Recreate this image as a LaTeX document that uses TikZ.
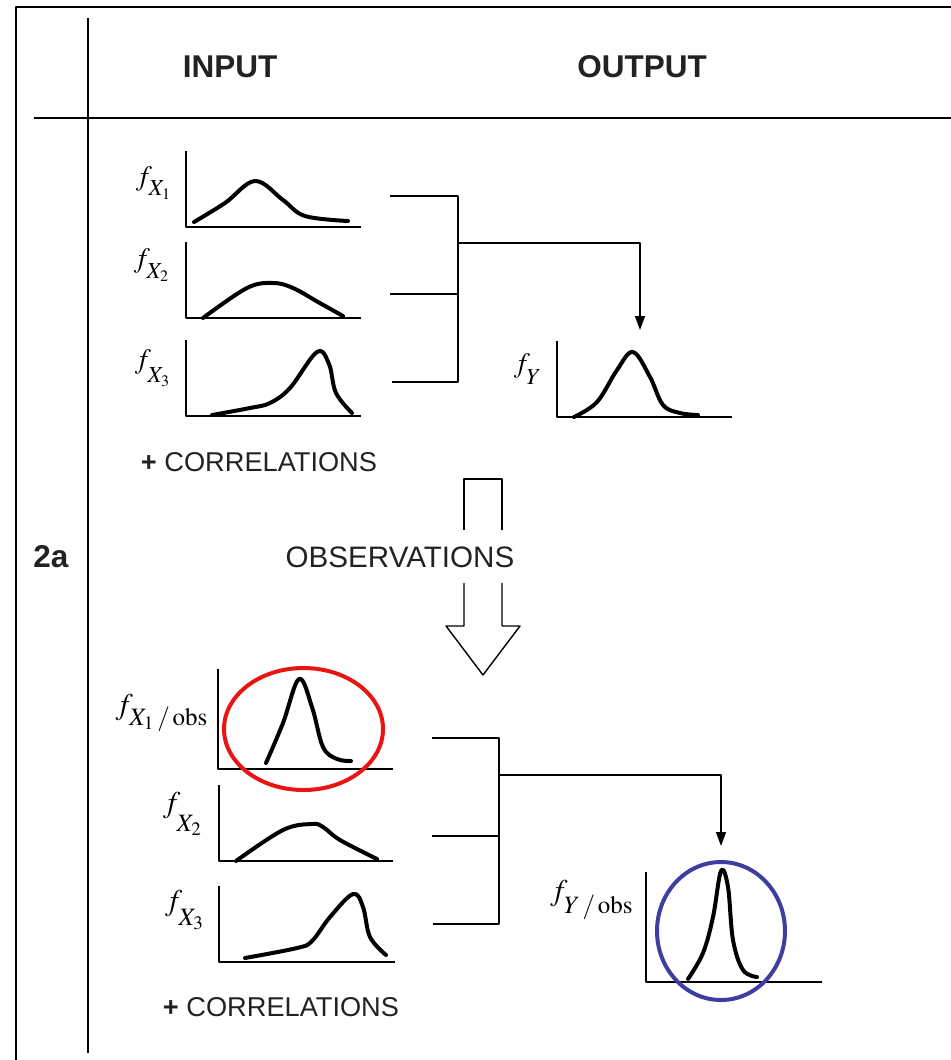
\documentclass[tikz,border=0pt]{standalone}
\usepackage{mathptmx}
\usepackage[no-math]{fontspec}
\setmainfont{Liberation Sans}
\usetikzlibrary{arrows.meta}
\DeclareMathSizes{14}{14}{11.5}{8}
\DeclareMathSizes{15}{15}{12.5}{9.5}
\definecolor{obsred}{RGB}{235,20,20}
\definecolor{obsblue}{RGB}{62,62,160}
\definecolor{ink}{RGB}{34,34,34}
\newcommand{\lowsub}[2][3pt]{_{\lower#1\hbox{$\scriptstyle #2$}}}
\tikzset{
  frameline/.style={line width=0.8pt},
  axisline/.style={line width=0.7pt},
  curve/.style={line width=2pt,line cap=round,line join=round},
  link/.style={line width=0.7pt},
  head/.style={inner sep=0pt,text=ink,font=\fontsize{15.75}{18}\selectfont\bfseries},
  txt/.style={inner sep=0pt,text=ink,font=\fontsize{14}{16}\selectfont},
  lab/.style={inner sep=0pt,font=\fontsize{14}{16}\selectfont},
  labbig/.style={inner sep=0pt,font=\fontsize{15}{17}\selectfont}
}
\begin{document}
\begin{tikzpicture}[x=0.5pt,y=-0.5pt,line join=round,>={Triangle[length=7pt,width=5pt]}]
\useasboundingbox (0,0) rectangle (951,1060);

% table rules
\draw[frameline] (16,1060) -- (16,7) -- (951,7);
\draw[frameline] (88,18) -- (88,1053);
\draw[frameline] (34,118) -- (951,118);

\node[head] (input) at (230,67) {INPUT};
\node[head] (output) at (642,67) {OUTPUT};
\node[head] (case) at (51,557) {2a};

% prior densities
\foreach \y in {227,318,416}
  \draw[axisline] (186,\y-76) -- (186,\y) -- (361,\y);
\draw[axisline] (557,341) -- (557,417) -- (732,417);

\draw[curve] plot[smooth,tension=0.6] coordinates {(194,222) (225,203) (255,181) (283,200) (305,216) (348,221)};
\draw[curve] plot[smooth,tension=0.6] coordinates {(203,318) (247,288) (273,283) (293,288) (318,302) (343,316)};
\draw[curve] plot[smooth,tension=0.6] coordinates {(212,415) (250,408) (270,403) (290,388) (317,352) (329,364) (336,393) (352,413)};
\draw[curve] plot[smooth,tension=0.6] coordinates {(574,417) (597,402) (617,370) (633,352) (650,377) (663,405) (680,413) (698,415)};

\node[lab] (fx1) at (154,183) {$f\lowsub[3pt]{X_1}$};
\node[lab] (fx2) at (152,265) {$f\lowsub[3.5pt]{X_2}$};
\node[lab] (fx3) at (153,368) {$f\lowsub[5pt]{X_3}$};
\node[lab] (fy) at (528,369) {$f\lowsub[4pt]{Y}$};
\node[txt,font=\fontsize{13.6}{16}\selectfont] (corr) at (259,462) {\textbf{+} CORRELATIONS};

\coordinate (a1) at (390,196);
\coordinate (a2) at (390,294);
\coordinate (a3) at (392,382);
\coordinate (j1) at (458,196);
\coordinate (j2) at (458,294);
\coordinate (j3) at (458,382);
\coordinate (jm) at (458,243);
\coordinate (turn) at (640,243);
\coordinate (tip) at (640,330);
\draw[link] (a1) -- (j1) -- (j3) -- (a3);
\draw[link] (a2) -- (j2);
\draw[link,->] (jm) -- (turn) -- (tip);

% update arrow
\draw[link] (464,530) -- (464,479) -- (502,479) -- (502,530);
\draw[link] (464,583) -- (464,626) -- (446,626) -- (483,675) -- (520,626) -- (502,626) -- (502,583);
\node[txt,font=\fontsize{14.8}{17}\selectfont] (obs) at (400,557) {OBSERVATIONS};

% posterior densities
\draw[axisline] (218,669) -- (218,769) -- (393,769);
\draw[axisline] (219,785) -- (219,861) -- (393,861);
\draw[axisline] (219,886) -- (219,962) -- (395,962);
\draw[axisline] (646,872) -- (646,982) -- (822,982);

\draw[curve] plot[smooth,tension=0.6] coordinates {(266,763) (283,723) (299,679) (312,707) (323,747) (337,759) (351,761)};
\draw[curve] plot[smooth,tension=0.6] coordinates {(236,861) (283,830) (312,824) (323,827) (340,840) (377,859)};
\draw[curve] plot[smooth,tension=0.6] coordinates {(245,958) (297,948) (312,941) (330,917) (353,894) (363,907) (370,937) (386,955)};
\draw[curve] plot[smooth,tension=0.6] coordinates {(688,979) (703,953) (713,917) (721,871) (728,887) (733,940) (743,970) (757,977)};

\draw[obsred,line width=2pt] (303.5,729) ellipse [x radius=79.5,y radius=61];
\draw[obsblue,line width=2pt] (721,931) ellipse [x radius=64,y radius=69];

\node[labbig] (fx1obs) at (162,713) {$f\lowsub[3pt]{X_1\,/\,\mathrm{obs}}$};
\node[labbig] (fx2b) at (183,814) {$f\lowsub[7pt]{X_2}$};
\node[labbig] (fx3b) at (185,910) {$f\lowsub[5pt]{X_3}$};
\node[labbig] (fyobs) at (592,900) {$f\lowsub[4pt]{Y\,/\,\mathrm{obs}}$};
\node[txt,font=\fontsize{13.6}{16}\selectfont] (corrb) at (281,1007) {\textbf{+} CORRELATIONS};

\coordinate (b1) at (432,738);
\coordinate (b2) at (432,836);
\coordinate (b3) at (433,924);
\coordinate (k1) at (499,738);
\coordinate (k2) at (499,836);
\coordinate (k3) at (499,924);
\coordinate (km) at (499,775);
\coordinate (turnb) at (721,775);
\coordinate (tipb) at (721,846);
\draw[link] (b1) -- (k1) -- (k3) -- (b3);
\draw[link] (b2) -- (k2);
\draw[link,->] (km) -- (turnb) -- (tipb);
\end{tikzpicture}
\end{document}
